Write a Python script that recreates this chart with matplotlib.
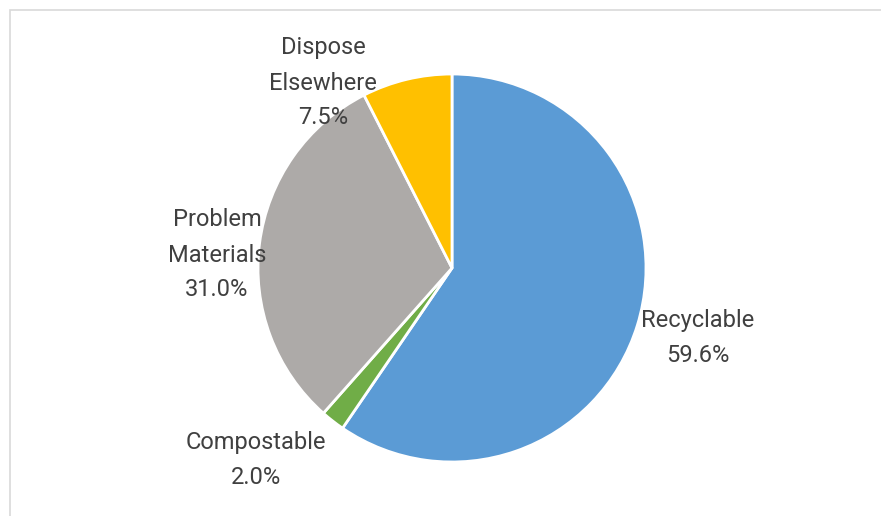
import matplotlib.pyplot as plt
from matplotlib.patches import Rectangle

labels = ["Recyclable", "Compostable", "Problem\nMaterials", "Dispose\nElsewhere"]
values = [59.6, 2.0, 31.0, 7.5]
colors = ["#5B9BD5", "#70AD47", "#ADAAA8", "#FFC000"]
# label anchor positions in pixels (x, y of first line center)
label_px = [(698, 321), (256, 443), (217, 220), (323, 48)]

W, H = 881, 516
fig = plt.figure(figsize=(W / 100, H / 100), dpi=100)
plt.rcParams['font.family'] = ['Roboto', 'DejaVu Sans']

# chart frame
fig.patches.append(Rectangle((10 / W, -0.1), 1.2, (H - 10) / H + 0.1,
                             transform=fig.transFigure, fill=False,
                             edgecolor="#D9D9D9", linewidth=1.2))

cx, cy, r = 452, 268, 194
ax = fig.add_axes([(cx - r) / W, (H - cy - r) / H, 2 * r / W, 2 * r / H])
ax.pie(values, colors=colors, startangle=90, counterclock=False,
       wedgeprops=dict(edgecolor="white", linewidth=2))
ax.set_xlim(-1, 1)
ax.set_ylim(-1, 1)
ax.axis("off")

line_h = 35
for lab, v, (x, y) in zip(labels, values, label_px):
    lines = lab.split("\n") + [f"{v:.1f}%"]
    for i, t in enumerate(lines):
        fig.text(x / W, 1 - (y + i * line_h) / H, t, ha="center", va="center",
                 fontsize=17, color="#404040")

fig.savefig("out.png", dpi=100)
